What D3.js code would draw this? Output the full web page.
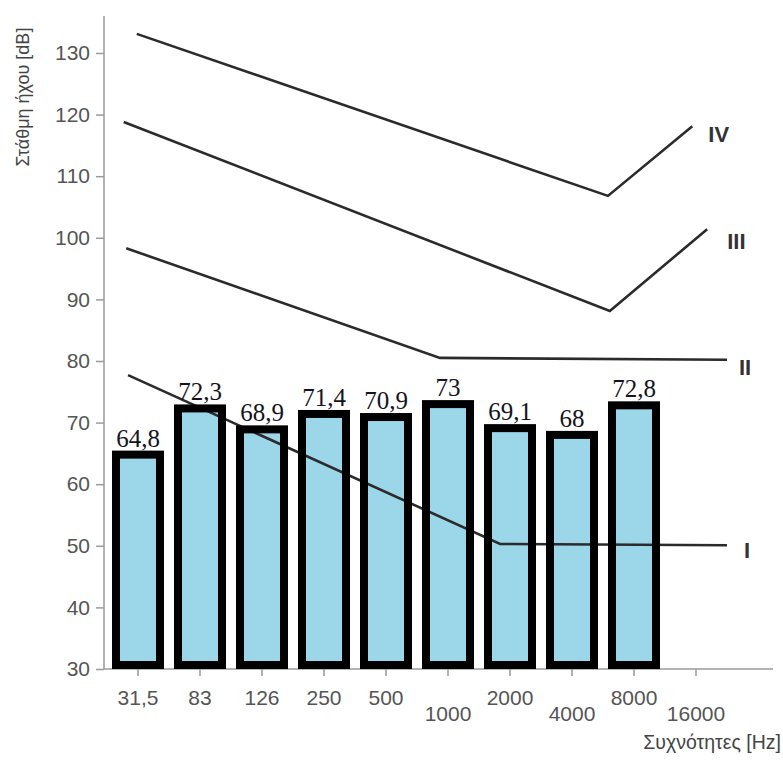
<!DOCTYPE html>
<html>
<head>
<meta charset="utf-8">
<script src="https://cdn.jsdelivr.net/npm/d3@7"></script>
<style>
  body { margin: 0; background: #fff; }
  svg { display: block; }
</style>
</head>
<body>
<svg width="783" height="760"></svg>
<script>
// frequency bands (Hz) shown on the x axis
var freqLabels = ["31,5", "83", "126", "250", "500", "1000", "2000", "4000", "8000", "16000"];
// measured level per band in dB (last band has no bar)
var barValues = [64.8, 72.3, 68.9, 71.4, 70.9, 73, 69.1, 68, 72.8];
var barLabels = ["64,8", "72,3", "68,9", "71,4", "70,9", "73", "69,1", "68", "72,8"];
var yTicks = [30, 40, 50, 60, 70, 80, 90, 100, 110, 120, 130];

// limit curves, points are [band position, dB]
var curveNames = ["IV", "III", "II", "I"];
var curveIV  = [[-0.02, 133.1], [7.58, 106.8], [8.94, 118.1]];
var curveIII = [[-0.23, 118.8], [7.61, 88.1], [9.18, 101.4]];
var curveII  = [[-0.19, 98.3], [4.87, 80.5], [9.5, 80.2]];
var curveI   = [[-0.16, 77.7], [5.84, 50.3], [9.5, 50.1]];

var svg = d3.select("svg");

var y = d3.scaleLinear().domain([30, 136]).range([669, 16]);
var x = d3.scaleBand().domain(freqLabels).range([107, 727]).padding(0);
var xPos = d3.scaleLinear().domain([0, 9])
    .range([x(freqLabels[0]) + x.bandwidth() / 2, x(freqLabels[9]) + x.bandwidth() / 2]);

var grey = "#9a9a9a";

// y axis
var yAxis = svg.append("g")
    .attr("transform", "translate(104,0)")
    .call(d3.axisLeft(y).tickValues(yTicks).tickSize(8).tickPadding(6));
yAxis.select(".domain").attr("stroke", grey).attr("stroke-width", 1.5)
    .attr("d", "M0," + y(136) + "V" + y(30));
yAxis.selectAll(".tick line").attr("stroke", grey).attr("stroke-width", 1.5);
yAxis.selectAll(".tick text")
    .attr("fill", "#555")
    .attr("font-family", "Liberation Sans, Arial, sans-serif")
    .attr("font-size", "21px");

// x axis
var xAxis = svg.append("g")
    .attr("transform", "translate(0," + y(30) + ")")
    .call(d3.axisBottom(x).tickSize(7).tickPadding(0));
xAxis.select(".domain").remove();
xAxis.append("line")
    .attr("x1", 104).attr("x2", 773)
    .attr("stroke", grey).attr("stroke-width", 1.5);
xAxis.selectAll(".tick line").attr("stroke", grey).attr("stroke-width", 1.5);
xAxis.selectAll(".tick text")
    .attr("fill", "#555")
    .attr("font-family", "Liberation Sans, Arial, sans-serif")
    .attr("font-size", "21px")
    .attr("dy", null)
    .attr("y", function(d, i) { return (i >= 5 && i % 2 == 1) ? 52 : 36; });

// axis titles
svg.append("text")
    .attr("transform", "translate(29,97) rotate(-90)")
    .attr("text-anchor", "middle")
    .attr("fill", "#444")
    .attr("font-family", "Liberation Sans, Arial, sans-serif")
    .attr("font-size", "18px")
    .text("Στάθμη ήχου [dB]");

svg.append("text")
    .attr("x", 781)
    .attr("y", 749)
    .attr("text-anchor", "end")
    .attr("fill", "#444")
    .attr("font-family", "Liberation Sans, Arial, sans-serif")
    .attr("font-size", "19.5px")
    .text("Συχνότητες [Hz]");

// bars: fill first, curves over it, thick border last
var bw = 44;
function bx(d, i) { return x(freqLabels[i]) + x.bandwidth() / 2 - bw / 2; }

svg.append("g").selectAll("rect")
    .data(barValues)
    .enter().append("rect")
    .attr("x", bx)
    .attr("y", function(d) { return y(d); })
    .attr("width", bw)
    .attr("height", function(d) { return y(30) - 4 - y(d); })
    .attr("fill", "#9bd7e8");

var line = d3.line()
    .x(function(d) { return xPos(d[0]); })
    .y(function(d) { return y(d[1]); });

var curves = [curveIV, curveIII, curveII, curveI];
var labelOffsets = [[16, 8], [20, 12], [12, 8], [17, 5]];

svg.append("g").selectAll("path")
    .data(curves)
    .enter().append("path")
    .attr("d", line)
    .attr("fill", "none")
    .attr("stroke", "#2b2b2b")
    .attr("stroke-width", 2.6);

svg.append("g").selectAll("text")
    .data(curves)
    .enter().append("text")
    .attr("x", function(d, i) { return xPos(d[d.length - 1][0]) + labelOffsets[i][0]; })
    .attr("y", function(d, i) { return y(d[d.length - 1][1]) + labelOffsets[i][1]; })
    .attr("dy", "0.35em")
    .attr("fill", "#333")
    .attr("font-family", "Liberation Sans, Arial, sans-serif")
    .attr("font-weight", "bold")
    .attr("font-size", "22px")
    .text(function(d, i) { return curveNames[i]; });

svg.append("g").selectAll("rect")
    .data(barValues)
    .enter().append("rect")
    .attr("x", bx)
    .attr("y", function(d) { return y(d); })
    .attr("width", bw)
    .attr("height", function(d) { return y(30) - 4 - y(d); })
    .attr("fill", "none")
    .attr("stroke", "#000")
    .attr("stroke-width", 8);

svg.append("g").selectAll("text")
    .data(barValues)
    .enter().append("text")
    .attr("x", function(d, i) { return x(freqLabels[i]) + x.bandwidth() / 2; })
    .attr("y", function(d) { return y(d) - 8; })
    .attr("text-anchor", "middle")
    .attr("fill", "#14141c")
    .attr("font-family", "Liberation Serif, Times New Roman, serif")
    .attr("font-size", "25px")
    .text(function(d, i) { return barLabels[i]; });
</script>
</body>
</html>
